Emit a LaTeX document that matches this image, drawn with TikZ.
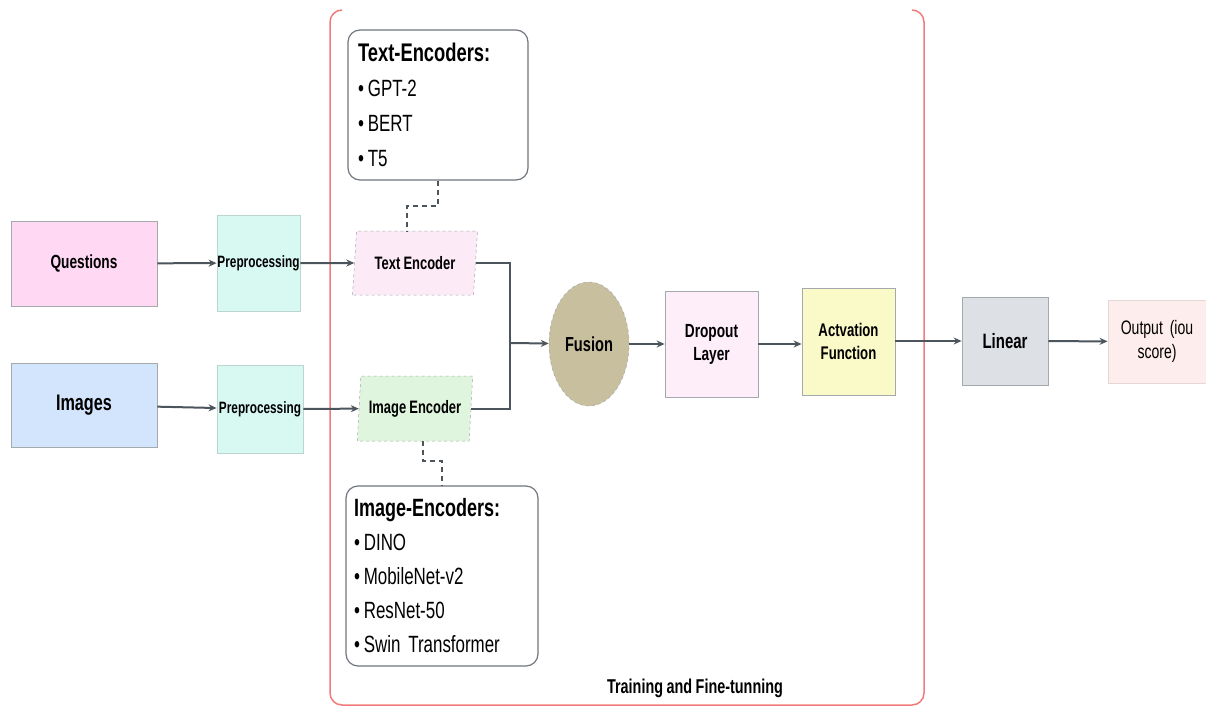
\documentclass[tikz,border=0pt]{standalone}
\usepackage{fontspec}
\setmainfont[FakeStretch=0.72,WordSpace=0.88]{Liberation Sans}
\usetikzlibrary{shapes.geometric,arrows.meta,calc}

\definecolor{qpink}{HTML}{FFD9F4}
\definecolor{iblue}{HTML}{D3E4FD}
\definecolor{precyan}{HTML}{D8F8F2}
\definecolor{tencpink}{HTML}{FCEBF6}
\definecolor{iencgreen}{HTML}{E0F5DD}
\definecolor{fusiontan}{HTML}{C8BF9F}
\definecolor{droppink}{HTML}{FDEEFA}
\definecolor{actyellow}{HTML}{FAFAC8}
\definecolor{lingray}{HTML}{DDE0E5}
\definecolor{outpink}{HTML}{FDEDEC}
\definecolor{framered}{HTML}{F27A7A}
\definecolor{edgegray}{HTML}{4C545C}
\definecolor{bordergray}{HTML}{A4A9AE}

\tikzset{
  block/.style={draw=bordergray, line width=0.8pt, inner sep=0pt, align=center,
    font=\fontsize{19}{23}\selectfont\bfseries},
  encshape/.style={trapezium, trapezium stretches=true, draw=bordergray,
    dashed, line width=0.5pt, inner sep=0pt,
    font=\fontsize{18}{22}\selectfont\bfseries},
  listbox/.style={draw=edgegray!80, line width=1.2pt, rounded corners=12pt, fill=white,
    align=left, inner ysep=0pt, font=\fontsize{23.5}{35}\selectfont},
  flow/.style={draw=edgegray, line width=2pt,
    -{Stealth[length=8pt,width=7pt]}},
  link/.style={draw=edgegray, line width=2pt},
  dashlink/.style={draw=edgegray, line width=1.8pt, dash pattern=on 5pt off 4pt},
}

\begin{document}
\begin{tikzpicture}[x=1pt,y=-1pt]
\useasboundingbox (0,0) rectangle (1206,707);

% training region (its top edge runs off the page; only the corners show)
\draw[framered, line width=1.5pt, rounded corners=12pt]
  (342,10) -- (330,10) -- (330,705) -- (924,705) -- (924,10) -- (912,10);
\node[font=\fontsize{20}{24}\selectfont\bfseries] (trainlabel) at (695,688) {Training and Fine-tunning};

% inputs
\node[block, fill=qpink, minimum width=146pt, minimum height=85pt] (questions) at (84,263.5) {Questions};
\node[block, fill=iblue, minimum width=146pt, minimum height=84pt,
  font=\fontsize{22.5}{26}\selectfont\bfseries] (images) at (84,405) {Images};

% preprocessing
\node[block, fill=precyan, draw=precyan!70!gray, minimum width=83pt, minimum height=96pt,
  font=\fontsize{16.4}{20}\selectfont\bfseries] (pre1) at (258.5,263) {Preprocessing};
\node[block, fill=precyan, draw=precyan!70!gray, minimum width=86pt, minimum height=88pt,
  font=\fontsize{16.4}{20}\selectfont\bfseries] (pre2) at (260,409) {Preprocessing};

% encoders
\node[encshape, fill=tencpink, trapezium left angle=78, trapezium right angle=102,
  minimum width=126pt, minimum height=64pt] (tenc) at (415,263) {Text Encoder};
\node[encshape, fill=iencgreen, trapezium left angle=80, trapezium right angle=100,
  minimum width=116pt, minimum height=65pt] (ienc) at (415,408.5) {Image Encoder};

% encoder choices
\node[listbox, inner xsep=10pt, text width=160pt, minimum height=150pt] (textlist) at (438,105)
  {{\bfseries\fontsize{25.5}{35}\selectfont Text-Encoders:}\\
   •\,GPT-2\\ •\,BERT\\ •\,T5};
\node[listbox, inner xsep=8pt, text width=176pt, minimum height=180pt] (imglist) at (442,576)
  {{\bfseries\fontsize{25}{35}\selectfont Image-Encoders:}\\[-1pt]
   •\,DINO\\[-1pt] •\,MobileNet-v2\\[-1pt] •\,ResNet-50\\[-1pt] •\,Swin Transformer};

% fusion and head
\node[ellipse, draw=bordergray, dashed, line width=0.5pt, fill=fusiontan, inner sep=0pt,
  minimum width=80pt, minimum height=124pt,
  font=\fontsize{20.3}{24}\selectfont\bfseries] (fusion) at (589,344) {Fusion};
\node[block, fill=droppink, minimum width=93pt, minimum height=106pt] (dropout) at (711.5,344) {Dropout\\Layer};
\node[block, fill=actyellow, minimum width=93pt, minimum height=107pt,
  font=\fontsize{18.3}{23}\selectfont\bfseries] (act) at (848.5,341.5) {Actvation\\Function};
\node[block, fill=lingray, minimum width=86pt, minimum height=88pt,
  font=\fontsize{20.8}{24}\selectfont\bfseries] (linear) at (1005,341) {Linear};
\node[block, fill=outpink, draw=outpink!80!gray, minimum width=98pt, minimum height=83pt,
  font=\fontsize{19.5}{24}\selectfont] (output) at (1157,341.5) {Output~ (iou\\score)};

% connectors
\draw[flow] (questions) -- (pre1);
\draw[flow] (images) -- (pre2);
\draw[flow] (pre1) -- (tenc);
\draw[flow] (pre2) -- (ienc);

\coordinate (join) at (510,343);
\draw[link] (tenc.east) -| (join);
\draw[link] (ienc.east) -| (join);
\draw[flow] (join) -- (fusion);
\draw[flow] (fusion) -- (fusion -| dropout.west);
\draw[flow] (dropout) -- (dropout -| act.west);
\draw[flow] (act.east |- linear) -- (linear);
\draw[flow] (linear) -- (output);

\draw[dashlink] (textlist.south) -- ++(0,25) -| ([xshift=-8pt]tenc.north);
\draw[dashlink] ([xshift=8pt]ienc.south) -- ++(0,20) -| (imglist.north);
\end{tikzpicture}
\end{document}
